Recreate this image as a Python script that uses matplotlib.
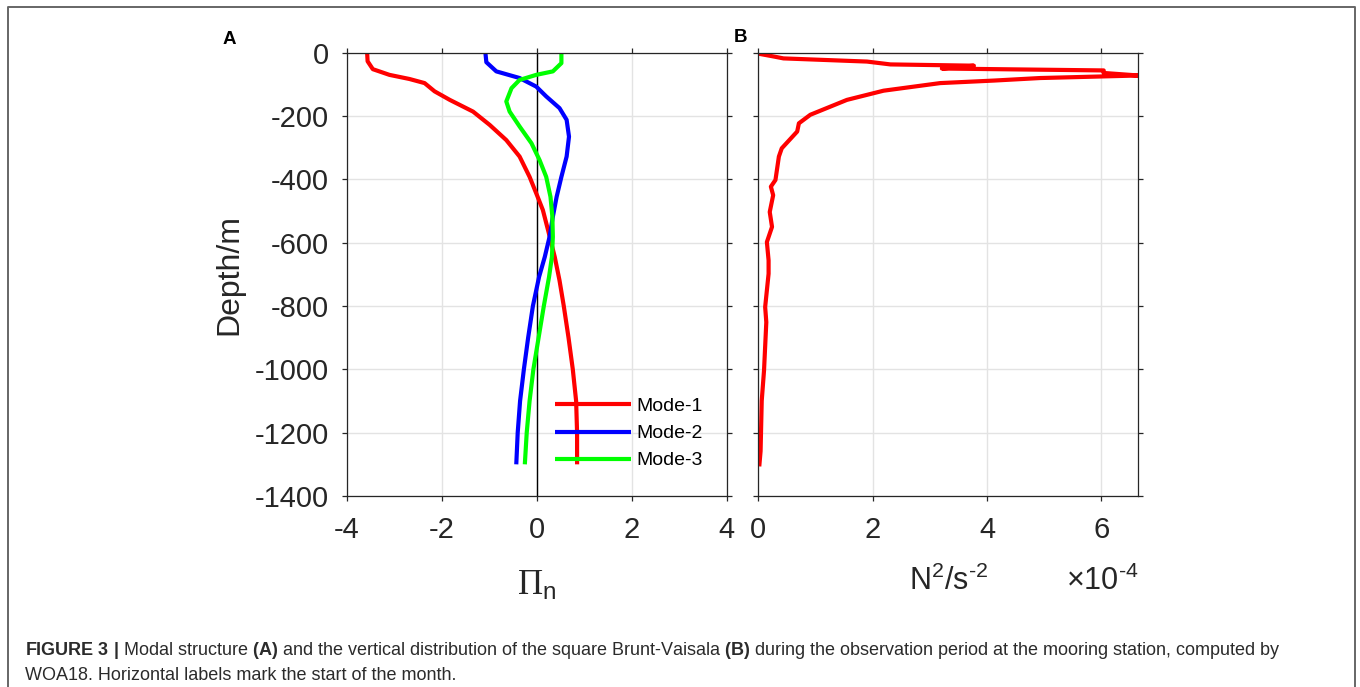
import matplotlib
matplotlib.use('Agg')
import matplotlib.pyplot as plt
from matplotlib.lines import Line2D

plt.rcParams['font.family'] = ['Liberation Sans', 'DejaVu Sans']
plt.rcParams['mathtext.fontset'] = 'custom'
plt.rcParams['mathtext.rm'] = 'Liberation Sans'
plt.rcParams['mathtext.it'] = 'Liberation Sans:italic'
plt.rcParams['mathtext.bf'] = 'Liberation Sans:bold'
plt.rcParams['mathtext.sf'] = 'Liberation Serif'
plt.rcParams['axes.unicode_minus'] = False

# Panel A: modal structure (depth in m)
depth_mode1 = [0, -27, -52, -70, -83, -96, -122, -149, -186, -228, -276, -328, -392,
               -444, -497, -561, -645, -719, -800, -900, -1000, -1100, -1200, -1300]
mode1 = [-3.57, -3.56, -3.45, -3.10, -2.68, -2.36, -2.15, -1.83, -1.34, -0.99, -0.64, -0.36,
         -0.15, -0.01, 0.13, 0.24, 0.38, 0.48, 0.57, 0.67, 0.76, 0.83, 0.85, 0.85]

depth_mode2 = [0, -30, -59, -80, -107, -138, -175, -212, -265, -328, -392, -455, -518,
               -582, -645, -708, -800, -900, -1000, -1100, -1200, -1300]
mode2 = [-1.08, -1.06, -0.85, -0.36, -0.01, 0.20, 0.48, 0.63, 0.68, 0.63, 0.52, 0.42, 0.34,
         0.27, 0.17, 0.05, -0.08, -0.18, -0.27, -0.35, -0.40, -0.43]

depth_mode3 = [0, -33, -59, -70, -86, -112, -154, -186, -233, -286, -339, -392, -455,
               -518, -582, -645, -708, -800, -900, -1000, -1100, -1200, -1300]
mode3 = [0.52, 0.52, 0.34, -0.01, -0.36, -0.53, -0.64, -0.57, -0.36, -0.11, 0.06, 0.20, 0.29,
         0.33, 0.34, 0.32, 0.26, 0.15, 0.04, -0.07, -0.15, -0.21, -0.25]

mode_labels = ['Mode-1', 'Mode-2', 'Mode-3']
mode_colors = ['#ff0000', '#0000ff', '#00ff00']

# Panel B: squared Brunt-Vaisala frequency (x 1e-4 s^-2)
depth_n2 = [-3, -12, -18, -28, -37, -41, -50, -56, -64, -72, -80, -88, -96, -120, -149,
            -196, -223, -249, -302, -328, -402, -423, -450, -503, -550, -598, -656, -698,
            -803, -851, -1004, -1099, -1258, -1300]
n2 = [0.00, 0.27, 0.44, 1.90, 2.31, 3.77, 3.21, 6.04, 6.04, 6.65, 4.93, 4.12, 3.18, 2.19, 1.55,
      0.91, 0.71, 0.68, 0.41, 0.36, 0.30, 0.22, 0.26, 0.20, 0.24, 0.15, 0.18, 0.18,
      0.12, 0.14, 0.10, 0.06, 0.04, 0.02]

ink = '#262626'
W, H = 1360, 687


def box(x0, y0, x1, y1):
    return [x0 / W, 1 - y1 / H, (x1 - x0) / W, (y1 - y0) / H]


def style(ax):
    for s in ax.spines.values():
        s.set_color(ink)
        s.set_linewidth(0.9)
    ax.tick_params(direction='out', length=3.6, width=0.9, colors=ink, labelsize=21,
                   top=True, right=True, pad=9)
    ax.tick_params(axis='x', pad=11)
    ax.grid(True, color='#e3e3e3', linewidth=1)
    ax.set_axisbelow(True)
    ax.set_ylim(-1400, 0)
    ax.set_yticks(range(-1400, 1, 200))


fig = plt.figure(figsize=(13.6, 6.87), dpi=100)

axA = fig.add_axes(box(346.7, 52.7, 726.7, 496))
style(axA)
axA.set_xlim(-4, 4)
axA.set_xticks([-4, -2, 0, 2, 4])
axA.axvline(0, color='k', linewidth=1, zorder=1.5)
for d, v, lab, c in zip([depth_mode1, depth_mode2, depth_mode3], [mode1, mode2, mode3],
                        mode_labels, mode_colors):
    axA.plot(v, d, color=c, linewidth=3, label=lab, solid_capstyle='butt')
axA.legend(frameon=False, fontsize=14, handlelength=3.9, handletextpad=0.3,
           labelspacing=0.49, loc='upper left', bbox_to_anchor=(0.548, 0.222),
           borderaxespad=0, borderpad=0)
axA.set_ylabel('Depth/m', fontsize=23, color=ink, va='center')
axA.yaxis.set_label_coords(-0.31, 0.5)
axA.set_xlabel(r'$\mathsf{\Pi}_{\mathregular{n}}$', fontsize=25, color=ink, va='center')
axA.xaxis.set_label_coords(0.5, -0.2)

axB = fig.add_axes(box(758.3, 52.7, 1138, 496))
style(axB)
axB.set_xlim(0, 6.64)
axB.set_xticks([0, 2, 4, 6])
axB.set_yticklabels([])
axB.plot(n2, depth_n2, color='#ff0000', linewidth=3)
axB.set_xlabel(r'N$^{2}$/s$^{\text{-2}}$', fontsize=22, color=ink, va='center')
axB.xaxis.set_label_coords(0.5, -0.192)
axB.text(1.0, -0.212, r'$\times$10$^{\text{-4}}$', transform=axB.transAxes,
         ha='right', va='baseline', fontsize=22, color=ink)

fig.text(229 / W, 1 - 39 / H, 'A', fontsize=13.5, fontweight='bold', ha='center', va='center')
fig.text(741 / W, 1 - 37 / H, 'B', fontsize=13.5, fontweight='bold', ha='center', va='center')

# frame around figure + caption
fig.add_artist(Line2D([8 / W, 8 / W, 1355 / W, 1355 / W], [-0.01, 1 - 7 / H, 1 - 7 / H, -0.01],
                      transform=fig.transFigure, color='#666666', linewidth=1.4))

cap1 = (r'$\bf{FIGURE\ 3\ |}$ Modal structure $\bf{(A)}$ and the vertical distribution of the '
        r'square Brunt-Vaisala $\bf{(B)}$ during the observation period at the mooring station, '
        r'computed by')
cap2 = 'WOA18. Horizontal labels mark the start of the month.'
fig.text(25 / W, 1 - 655 / H, cap1, fontsize=13, color='#2b2b2b', va='baseline')
fig.text(25 / W, 1 - 680 / H, cap2, fontsize=13, color='#2b2b2b', va='baseline')

fig.savefig('out.png', dpi=100)
